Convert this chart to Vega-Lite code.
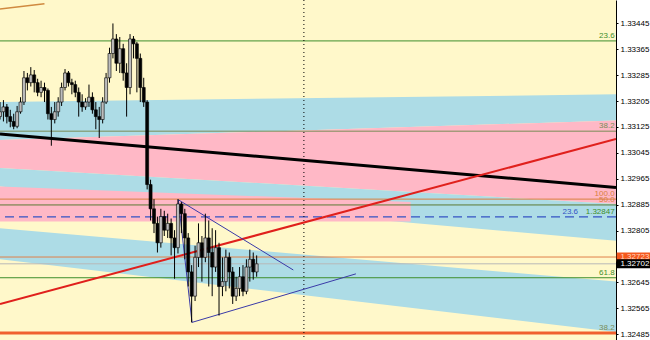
{
  "$schema": "https://vega.github.io/schema/vega-lite/v6.json",
  "width": 616,
  "height": 340,
  "autosize": {"type": "none"},
  "padding": {"left": 0, "top": 0, "right": 34, "bottom": 0},
  "background": "#ffffff",
  "config": {
    "view": {"fill": "#FFF8CA", "stroke": null},
    "axisY": {"title": null, "grid": false, "labelFont": "Liberation Sans", "labelFontSize": 8, "labelColor": "#000000",
      "tickColor": "#000000", "tickSize": 2, "domainColor": "#000000", "domainWidth": 1, "labelPadding": 2, "labelOverlap": false}
  },
  "datasets": {
    "candles": [
      {"bar":0,"o":1.33157,"h":1.33202,"l":1.33148,"c":1.33172},
      {"bar":1,"o":1.33172,"h":1.33208,"l":1.33142,"c":1.33187},
      {"bar":2,"o":1.33187,"h":1.33196,"l":1.33136,"c":1.33157},
      {"bar":3,"o":1.33157,"h":1.33178,"l":1.33124,"c":1.33142},
      {"bar":4,"o":1.33142,"h":1.33166,"l":1.33118,"c":1.33127},
      {"bar":5,"o":1.33127,"h":1.33190,"l":1.33121,"c":1.33172},
      {"bar":6,"o":1.33172,"h":1.33217,"l":1.33166,"c":1.33202},
      {"bar":7,"o":1.33202,"h":1.33298,"l":1.33193,"c":1.33277},
      {"bar":8,"o":1.33277,"h":1.33292,"l":1.33238,"c":1.33262},
      {"bar":9,"o":1.33262,"h":1.33310,"l":1.33250,"c":1.33286},
      {"bar":10,"o":1.33286,"h":1.33301,"l":1.33232,"c":1.33262},
      {"bar":11,"o":1.33262,"h":1.33274,"l":1.33220,"c":1.33232},
      {"bar":12,"o":1.33232,"h":1.33268,"l":1.33217,"c":1.33247},
      {"bar":13,"o":1.33247,"h":1.33262,"l":1.33202,"c":1.33238},
      {"bar":14,"o":1.33238,"h":1.33244,"l":1.33148,"c":1.33166},
      {"bar":15,"o":1.33166,"h":1.33187,"l":1.33067,"c":1.33148},
      {"bar":16,"o":1.33148,"h":1.33202,"l":1.33136,"c":1.33172},
      {"bar":17,"o":1.33172,"h":1.33217,"l":1.33157,"c":1.33202},
      {"bar":18,"o":1.33202,"h":1.33262,"l":1.33190,"c":1.33247},
      {"bar":19,"o":1.33247,"h":1.33304,"l":1.33238,"c":1.33292},
      {"bar":20,"o":1.33292,"h":1.33298,"l":1.33250,"c":1.33262},
      {"bar":21,"o":1.33262,"h":1.33274,"l":1.33226,"c":1.33256},
      {"bar":22,"o":1.33256,"h":1.33268,"l":1.33217,"c":1.33232},
      {"bar":23,"o":1.33232,"h":1.33247,"l":1.33157,"c":1.33202},
      {"bar":24,"o":1.33202,"h":1.33226,"l":1.33172,"c":1.33187},
      {"bar":25,"o":1.33187,"h":1.33214,"l":1.33178,"c":1.33202},
      {"bar":26,"o":1.33202,"h":1.33256,"l":1.33187,"c":1.33217},
      {"bar":27,"o":1.33217,"h":1.33232,"l":1.33166,"c":1.33178},
      {"bar":28,"o":1.33178,"h":1.33202,"l":1.33118,"c":1.33157},
      {"bar":29,"o":1.33157,"h":1.33187,"l":1.33091,"c":1.33148},
      {"bar":30,"o":1.33148,"h":1.33217,"l":1.33136,"c":1.33202},
      {"bar":31,"o":1.33202,"h":1.33292,"l":1.33196,"c":1.33277},
      {"bar":32,"o":1.33277,"h":1.33370,"l":1.33262,"c":1.33352},
      {"bar":33,"o":1.33352,"h":1.33445,"l":1.33337,"c":1.33397},
      {"bar":34,"o":1.33397,"h":1.33412,"l":1.33298,"c":1.33322},
      {"bar":35,"o":1.33322,"h":1.33403,"l":1.33292,"c":1.33367},
      {"bar":36,"o":1.33367,"h":1.33382,"l":1.33268,"c":1.33292},
      {"bar":37,"o":1.33292,"h":1.33322,"l":1.33157,"c":1.33247},
      {"bar":38,"o":1.33247,"h":1.33412,"l":1.33226,"c":1.33397},
      {"bar":39,"o":1.33397,"h":1.33406,"l":1.33337,"c":1.33382},
      {"bar":40,"o":1.33382,"h":1.33388,"l":1.33232,"c":1.33337},
      {"bar":41,"o":1.33337,"h":1.33352,"l":1.33202,"c":1.33247},
      {"bar":42,"o":1.33247,"h":1.33277,"l":1.33187,"c":1.33202},
      {"bar":43,"o":1.33202,"h":1.33208,"l":1.32932,"c":1.32947},
      {"bar":44,"o":1.32947,"h":1.32962,"l":1.32836,"c":1.32872},
      {"bar":45,"o":1.32872,"h":1.32902,"l":1.32797,"c":1.32827},
      {"bar":46,"o":1.32827,"h":1.32848,"l":1.32737,"c":1.32767},
      {"bar":47,"o":1.32767,"h":1.32872,"l":1.32752,"c":1.32848},
      {"bar":48,"o":1.32848,"h":1.32866,"l":1.32788,"c":1.32806},
      {"bar":49,"o":1.32806,"h":1.32857,"l":1.32782,"c":1.32827},
      {"bar":50,"o":1.32827,"h":1.32842,"l":1.32728,"c":1.32782},
      {"bar":51,"o":1.32782,"h":1.32806,"l":1.32656,"c":1.32752},
      {"bar":52,"o":1.32752,"h":1.32902,"l":1.32734,"c":1.32887},
      {"bar":53,"o":1.32887,"h":1.32893,"l":1.32797,"c":1.32857},
      {"bar":54,"o":1.32857,"h":1.32872,"l":1.32716,"c":1.32782},
      {"bar":55,"o":1.32782,"h":1.32797,"l":1.32632,"c":1.32677},
      {"bar":56,"o":1.32677,"h":1.32698,"l":1.32521,"c":1.32602},
      {"bar":57,"o":1.32602,"h":1.32758,"l":1.32587,"c":1.32722},
      {"bar":58,"o":1.32722,"h":1.32827,"l":1.32692,"c":1.32767},
      {"bar":59,"o":1.32767,"h":1.32788,"l":1.32647,"c":1.32722},
      {"bar":60,"o":1.32722,"h":1.32857,"l":1.32707,"c":1.32782},
      {"bar":61,"o":1.32782,"h":1.32836,"l":1.32632,"c":1.32737},
      {"bar":62,"o":1.32737,"h":1.32812,"l":1.32602,"c":1.32692},
      {"bar":63,"o":1.32692,"h":1.32806,"l":1.32677,"c":1.32752},
      {"bar":64,"o":1.32752,"h":1.32767,"l":1.32542,"c":1.32632},
      {"bar":65,"o":1.32632,"h":1.32722,"l":1.32602,"c":1.32647},
      {"bar":66,"o":1.32647,"h":1.32746,"l":1.32617,"c":1.32722},
      {"bar":67,"o":1.32722,"h":1.32737,"l":1.32626,"c":1.32677},
      {"bar":68,"o":1.32677,"h":1.32692,"l":1.32578,"c":1.32602},
      {"bar":69,"o":1.32602,"h":1.32662,"l":1.32587,"c":1.32626},
      {"bar":70,"o":1.32626,"h":1.32692,"l":1.32602,"c":1.32662},
      {"bar":71,"o":1.32662,"h":1.32698,"l":1.32602,"c":1.32617},
      {"bar":72,"o":1.32617,"h":1.32716,"l":1.32608,"c":1.32692},
      {"bar":73,"o":1.32692,"h":1.32746,"l":1.32647,"c":1.32716},
      {"bar":74,"o":1.32716,"h":1.32737,"l":1.32653,"c":1.32677},
      {"bar":75,"o":1.32677,"h":1.32728,"l":1.32662,"c":1.32702}
    ],
    "bands": [
      {"band":"blueA","bar":0,"top":1.33202,"bot":1.33085},
      {"band":"blueA","bar":180,"top":1.33226,"bot":1.33145},
      {"band":"pinkA","bar":0,"top":1.33085,"bot":1.32998},
      {"band":"pinkA","bar":180,"top":1.33145,"bot":1.32887},
      {"band":"blueB","bar":0,"top":1.32998,"bot":1.32941},
      {"band":"blueB","bar":180,"top":1.32887,"bot":1.32773},
      {"band":"pinkR","bar":0,"top":1.32941,"bot":1.32833},
      {"band":"pinkR","bar":120,"top":1.32893,"bot":1.32833},
      {"band":"blueC","bar":0,"top":1.32812,"bot":1.32716},
      {"band":"blueC","bar":180,"top":1.32647,"bot":1.32491}
    ],
    "levels": [
      {"lvl":"green","price":1.33391},
      {"lvl":"olive","price":1.33112},
      {"lvl":"orange","price":1.32902},
      {"lvl":"darkgreen","price":1.32884},
      {"lvl":"ask","price":1.32723},
      {"lvl":"bid","price":1.32702},
      {"lvl":"green","price":1.32659}
    ],
    "fibLabels": [
      {"t":"23.6","price":1.33391,"k":"green"},
      {"t":"38.2","price":1.33112,"k":"olive"},
      {"t":"100.0","price":1.32902,"k":"orange"},
      {"t":"50.0","price":1.32884,"k":"orange"},
      {"t":"1.32847","price":1.32847,"k":"blue"},
      {"t":"61.8","price":1.32659,"k":"green"},
      {"t":"38.2","price":1.32488,"k":"salmon"}
    ],
    "trend": [
      {"ln":"black","bar":0,"price":1.33103},
      {"ln":"black","bar":180,"price":1.32938},
      {"ln":"red","bar":0,"price":1.32578},
      {"ln":"red","bar":180,"price":1.33088},
      {"ln":"orange","bar":0,"price":1.33490},
      {"ln":"orange","bar":13,"price":1.33506}
    ],
    "triangle": [
      {"s":1,"bar":85.7,"price":1.32683},
      {"s":2,"bar":52.1,"price":1.32900},
      {"s":3,"bar":56.1,"price":1.32521},
      {"s":4,"bar":104,"price":1.32671}
    ],
    "tags": [
      {"tag":"ask","price":1.32723},
      {"tag":"bid","price":1.32702}
    ]
  },
  "layer": [
    {
      "data": {"name": "bands"},
      "transform": [{"filter": "datum.band == 'blueA'"}],
      "mark": {"type": "area", "color": "#ADDCE6", "opacity": 1},
      "encoding": {
        "x": {"field": "bar", "type": "quantitative", "scale": {"domain": [0, 180], "nice": false, "zero": false, "padding": 0}, "axis": null},
        "y": {"field": "top", "type": "quantitative", "scale": {"domain": [1.32482, 1.33502], "nice": false, "zero": false},
          "axis": {"orient": "right", "values": [1.32485, 1.32565, 1.32645, 1.32805, 1.32885, 1.32965, 1.33045, 1.33125, 1.33205, 1.33285, 1.33365, 1.33445], "format": ".5f"}},
        "y2": {"field": "bot"}
      }
    },
    {
      "data": {"name": "bands"},
      "transform": [{"filter": "datum.band == 'pinkA'"}],
      "mark": {"type": "area", "color": "#FFB8C6", "opacity": 1},
      "encoding": {
        "x": {"field": "bar", "type": "quantitative", "scale": {"domain": [0, 180], "nice": false, "zero": false, "padding": 0}, "axis": null},
        "y": {"field": "top", "type": "quantitative", "scale": {"domain": [1.32482, 1.33502], "nice": false, "zero": false},
          "axis": {"orient": "right", "values": [1.32485, 1.32565, 1.32645, 1.32805, 1.32885, 1.32965, 1.33045, 1.33125, 1.33205, 1.33285, 1.33365, 1.33445], "format": ".5f"}},
        "y2": {"field": "bot"}
      }
    },
    {
      "data": {"name": "bands"},
      "transform": [{"filter": "datum.band == 'blueB'"}],
      "mark": {"type": "area", "color": "#ADDCE6", "opacity": 1},
      "encoding": {
        "x": {"field": "bar", "type": "quantitative", "scale": {"domain": [0, 180], "nice": false, "zero": false, "padding": 0}, "axis": null},
        "y": {"field": "top", "type": "quantitative", "scale": {"domain": [1.32482, 1.33502], "nice": false, "zero": false},
          "axis": {"orient": "right", "values": [1.32485, 1.32565, 1.32645, 1.32805, 1.32885, 1.32965, 1.33045, 1.33125, 1.33205, 1.33285, 1.33365, 1.33445], "format": ".5f"}},
        "y2": {"field": "bot"}
      }
    },
    {
      "data": {"name": "bands"},
      "transform": [{"filter": "datum.band == 'pinkR'"}],
      "mark": {"type": "area", "color": "#FFB8C6", "opacity": 1},
      "encoding": {
        "x": {"field": "bar", "type": "quantitative", "scale": {"domain": [0, 180], "nice": false, "zero": false, "padding": 0}, "axis": null},
        "y": {"field": "top", "type": "quantitative", "scale": {"domain": [1.32482, 1.33502], "nice": false, "zero": false},
          "axis": {"orient": "right", "values": [1.32485, 1.32565, 1.32645, 1.32805, 1.32885, 1.32965, 1.33045, 1.33125, 1.33205, 1.33285, 1.33365, 1.33445], "format": ".5f"}},
        "y2": {"field": "bot"}
      }
    },
    {
      "data": {"name": "bands"},
      "transform": [{"filter": "datum.band == 'blueC'"}],
      "mark": {"type": "area", "color": "#ADDCE6", "opacity": 1},
      "encoding": {
        "x": {"field": "bar", "type": "quantitative", "scale": {"domain": [0, 180], "nice": false, "zero": false, "padding": 0}, "axis": null},
        "y": {"field": "top", "type": "quantitative", "scale": {"domain": [1.32482, 1.33502], "nice": false, "zero": false},
          "axis": {"orient": "right", "values": [1.32485, 1.32565, 1.32645, 1.32805, 1.32885, 1.32965, 1.33045, 1.33125, 1.33205, 1.33285, 1.33365, 1.33445], "format": ".5f"}},
        "y2": {"field": "bot"}
      }
    },
    {
      "data": {"name": "levels"},
      "mark": {"type": "rule", "strokeWidth": 1},
      "encoding": {
        "y": {"field": "price", "type": "quantitative", "scale": {"domain": [1.32482, 1.33502], "nice": false, "zero": false},
          "axis": {"orient": "right", "values": [1.32485, 1.32565, 1.32645, 1.32805, 1.32885, 1.32965, 1.33045, 1.33125, 1.33205, 1.33285, 1.33365, 1.33445], "format": ".5f"}},
        "color": {"field": "lvl", "type": "nominal", "legend": null,
          "scale": {"domain": ["green", "olive", "orange", "darkgreen", "ask", "bid"],
                    "range": ["#3E8E2C", "#7A8C58", "#D9803F", "#5C7A34", "#E0804A", "#B8B8B8"]}}
      }
    },
    {
      "data": {"values": [{"price": 1.32847}]},
      "mark": {"type": "rule", "strokeWidth": 1.2, "color": "#3453C4", "strokeDash": [9, 5]},
      "encoding": {
        "y": {"field": "price", "type": "quantitative", "scale": {"domain": [1.32482, 1.33502], "nice": false, "zero": false},
          "axis": {"orient": "right", "values": [1.32485, 1.32565, 1.32645, 1.32805, 1.32885, 1.32965, 1.33045, 1.33125, 1.33205, 1.33285, 1.33365, 1.33445], "format": ".5f"}}
      }
    },
    {
      "data": {"values": [{"price": 1.32488}]},
      "mark": {"type": "rule", "strokeWidth": 3, "color": "#F0602E"},
      "encoding": {
        "y": {"field": "price", "type": "quantitative", "scale": {"domain": [1.32482, 1.33502], "nice": false, "zero": false},
          "axis": {"orient": "right", "values": [1.32485, 1.32565, 1.32645, 1.32805, 1.32885, 1.32965, 1.33045, 1.33125, 1.33205, 1.33285, 1.33365, 1.33445], "format": ".5f"}}
      }
    },
    {
      "data": {"values": [{"bar": 88.8}]},
      "mark": {"type": "rule", "strokeWidth": 1, "color": "#000000", "strokeDash": [1, 3]},
      "encoding": {
        "x": {"field": "bar", "type": "quantitative", "scale": {"domain": [0, 180], "nice": false, "zero": false, "padding": 0}, "axis": null}
      }
    },
    {
      "data": {"name": "trend"},
      "transform": [{"filter": "datum.ln == 'black'"}],
      "mark": {"type": "line", "color": "#000000", "strokeWidth": 3, "clip": true},
      "encoding": {
        "x": {"field": "bar", "type": "quantitative", "scale": {"domain": [0, 180], "nice": false, "zero": false, "padding": 0}, "axis": null},
        "y": {"field": "price", "type": "quantitative", "scale": {"domain": [1.32482, 1.33502], "nice": false, "zero": false},
          "axis": {"orient": "right", "values": [1.32485, 1.32565, 1.32645, 1.32805, 1.32885, 1.32965, 1.33045, 1.33125, 1.33205, 1.33285, 1.33365, 1.33445], "format": ".5f"}}
      }
    },
    {
      "data": {"name": "trend"},
      "transform": [{"filter": "datum.ln == 'red'"}],
      "mark": {"type": "line", "color": "#E0201C", "strokeWidth": 2, "clip": true},
      "encoding": {
        "x": {"field": "bar", "type": "quantitative", "scale": {"domain": [0, 180], "nice": false, "zero": false, "padding": 0}, "axis": null},
        "y": {"field": "price", "type": "quantitative", "scale": {"domain": [1.32482, 1.33502], "nice": false, "zero": false},
          "axis": {"orient": "right", "values": [1.32485, 1.32565, 1.32645, 1.32805, 1.32885, 1.32965, 1.33045, 1.33125, 1.33205, 1.33285, 1.33365, 1.33445], "format": ".5f"}}
      }
    },
    {
      "data": {"name": "trend"},
      "transform": [{"filter": "datum.ln == 'orange'"}],
      "mark": {"type": "line", "color": "#D08A40", "strokeWidth": 1.5, "clip": true},
      "encoding": {
        "x": {"field": "bar", "type": "quantitative", "scale": {"domain": [0, 180], "nice": false, "zero": false, "padding": 0}, "axis": null},
        "y": {"field": "price", "type": "quantitative", "scale": {"domain": [1.32482, 1.33502], "nice": false, "zero": false},
          "axis": {"orient": "right", "values": [1.32485, 1.32565, 1.32645, 1.32805, 1.32885, 1.32965, 1.33045, 1.33125, 1.33205, 1.33285, 1.33365, 1.33445], "format": ".5f"}}
      }
    },
    {
      "data": {"name": "triangle"},
      "mark": {"type": "line", "color": "#3A3AA8", "strokeWidth": 1},
      "encoding": {
        "x": {"field": "bar", "type": "quantitative", "scale": {"domain": [0, 180], "nice": false, "zero": false, "padding": 0}, "axis": null},
        "y": {"field": "price", "type": "quantitative", "scale": {"domain": [1.32482, 1.33502], "nice": false, "zero": false},
          "axis": {"orient": "right", "values": [1.32485, 1.32565, 1.32645, 1.32805, 1.32885, 1.32965, 1.33045, 1.33125, 1.33205, 1.33285, 1.33365, 1.33445], "format": ".5f"}},
        "order": {"field": "s", "type": "quantitative"}
      }
    },
    {
      "data": {"name": "candles"},
      "mark": {"type": "rule", "color": "#000000", "strokeWidth": 1},
      "encoding": {
        "x": {"field": "bar", "type": "quantitative", "scale": {"domain": [0, 180], "nice": false, "zero": false, "padding": 0}, "axis": null},
        "y": {"field": "l", "type": "quantitative", "scale": {"domain": [1.32482, 1.33502], "nice": false, "zero": false},
          "axis": {"orient": "right", "values": [1.32485, 1.32565, 1.32645, 1.32805, 1.32885, 1.32965, 1.33045, 1.33125, 1.33205, 1.33285, 1.33365, 1.33445], "format": ".5f"}},
        "y2": {"field": "h"}
      }
    },
    {
      "data": {"name": "candles"},
      "mark": {"type": "bar", "size": 3, "stroke": "#000000", "strokeWidth": 0.6},
      "encoding": {
        "x": {"field": "bar", "type": "quantitative", "scale": {"domain": [0, 180], "nice": false, "zero": false, "padding": 0}, "axis": null},
        "y": {"field": "o", "type": "quantitative", "scale": {"domain": [1.32482, 1.33502], "nice": false, "zero": false},
          "axis": {"orient": "right", "values": [1.32485, 1.32565, 1.32645, 1.32805, 1.32885, 1.32965, 1.33045, 1.33125, 1.33205, 1.33285, 1.33365, 1.33445], "format": ".5f"}},
        "y2": {"field": "c"},
        "fill": {"condition": {"test": "datum.c > datum.o", "value": "#BDBDBD"}, "value": "#000000"}
      }
    },
    {
      "data": {"name": "fibLabels"},
      "mark": {"type": "text", "align": "right", "baseline": "bottom", "dy": -1, "font": "Liberation Sans", "fontSize": 8},
      "encoding": {
        "x": {"datum": 179.6, "type": "quantitative", "scale": {"domain": [0, 180], "nice": false, "zero": false, "padding": 0}, "axis": null},
        "y": {"field": "price", "type": "quantitative", "scale": {"domain": [1.32482, 1.33502], "nice": false, "zero": false},
          "axis": {"orient": "right", "values": [1.32485, 1.32565, 1.32645, 1.32805, 1.32885, 1.32965, 1.33045, 1.33125, 1.33205, 1.33285, 1.33365, 1.33445], "format": ".5f"}},
        "text": {"field": "t"},
        "color": {"field": "k", "type": "nominal", "legend": null,
          "scale": {"domain": ["green", "olive", "orange", "blue", "salmon"],
                    "range": ["#3E8E2C", "#7A8C58", "#D9803F", "#3453C4", "#F2907A"]}}
      }
    },
    {
      "data": {"values": [{"t": "23.6", "price": 1.32847}]},
      "mark": {"type": "text", "align": "right", "baseline": "bottom", "dy": -1, "font": "Liberation Sans", "fontSize": 8, "color": "#3453C4"},
      "encoding": {
        "x": {"datum": 168.9, "type": "quantitative", "scale": {"domain": [0, 180], "nice": false, "zero": false, "padding": 0}, "axis": null},
        "y": {"field": "price", "type": "quantitative", "scale": {"domain": [1.32482, 1.33502], "nice": false, "zero": false},
          "axis": {"orient": "right", "values": [1.32485, 1.32565, 1.32645, 1.32805, 1.32885, 1.32965, 1.33045, 1.33125, 1.33205, 1.33285, 1.33365, 1.33445], "format": ".5f"}},
        "text": {"field": "t"}
      }
    },
    {
      "data": {"name": "tags"},
      "transform": [{"filter": "datum.tag == 'ask'"}],
      "mark": {"type": "bar", "size": 9, "color": "#F4581E"},
      "encoding": {
        "x": {"datum": 180.2, "type": "quantitative", "scale": {"domain": [0, 180], "nice": false, "zero": false, "padding": 0}, "axis": null},
        "x2": {"datum": 190},
        "y": {"field": "price", "type": "quantitative", "scale": {"domain": [1.32482, 1.33502], "nice": false, "zero": false},
          "axis": {"orient": "right", "values": [1.32485, 1.32565, 1.32645, 1.32805, 1.32885, 1.32965, 1.33045, 1.33125, 1.33205, 1.33285, 1.33365, 1.33445], "format": ".5f"}}
      }
    },
    {
      "data": {"name": "tags"},
      "transform": [{"filter": "datum.tag == 'ask'"}],
      "mark": {"type": "text", "align": "left", "baseline": "middle", "font": "Liberation Sans", "fontSize": 8, "color": "#FFD8C0"},
      "encoding": {
        "x": {"datum": 181.3, "type": "quantitative", "scale": {"domain": [0, 180], "nice": false, "zero": false, "padding": 0}, "axis": null},
        "y": {"field": "price", "type": "quantitative", "scale": {"domain": [1.32482, 1.33502], "nice": false, "zero": false},
          "axis": {"orient": "right", "values": [1.32485, 1.32565, 1.32645, 1.32805, 1.32885, 1.32965, 1.33045, 1.33125, 1.33205, 1.33285, 1.33365, 1.33445], "format": ".5f"}},
        "text": {"field": "price", "format": ".5f"}
      }
    },
    {
      "data": {"name": "tags"},
      "transform": [{"filter": "datum.tag == 'bid'"}],
      "mark": {"type": "bar", "size": 9, "color": "#000000"},
      "encoding": {
        "x": {"datum": 180.2, "type": "quantitative", "scale": {"domain": [0, 180], "nice": false, "zero": false, "padding": 0}, "axis": null},
        "x2": {"datum": 190},
        "y": {"field": "price", "type": "quantitative", "scale": {"domain": [1.32482, 1.33502], "nice": false, "zero": false},
          "axis": {"orient": "right", "values": [1.32485, 1.32565, 1.32645, 1.32805, 1.32885, 1.32965, 1.33045, 1.33125, 1.33205, 1.33285, 1.33365, 1.33445], "format": ".5f"}}
      }
    },
    {
      "data": {"name": "tags"},
      "transform": [{"filter": "datum.tag == 'bid'"}],
      "mark": {"type": "text", "align": "left", "baseline": "middle", "font": "Liberation Sans", "fontSize": 8, "color": "#FFFFFF"},
      "encoding": {
        "x": {"datum": 181.3, "type": "quantitative", "scale": {"domain": [0, 180], "nice": false, "zero": false, "padding": 0}, "axis": null},
        "y": {"field": "price", "type": "quantitative", "scale": {"domain": [1.32482, 1.33502], "nice": false, "zero": false},
          "axis": {"orient": "right", "values": [1.32485, 1.32565, 1.32645, 1.32805, 1.32885, 1.32965, 1.33045, 1.33125, 1.33205, 1.33285, 1.33365, 1.33445], "format": ".5f"}},
        "text": {"field": "price", "format": ".5f"}
      }
    }
  ]
}
